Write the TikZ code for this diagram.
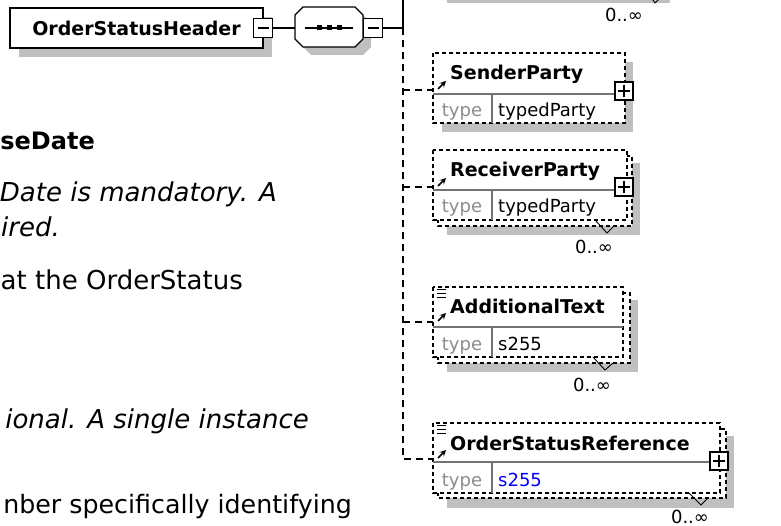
\documentclass[tikz,border=0pt]{standalone}
\usepackage{fontspec}
\setmainfont{DejaVu Sans}
\usetikzlibrary{arrows}

\tikzset{
  shadow/.style={fill=black!25},
  heavy/.style={line width=1.2pt},
  elbox/.style={heavy, dash pattern=on 4pt off 3pt, fill=white},
  conn/.style={heavy, dash pattern=on 7pt off 5pt},
  divider/.style={draw=black!55, heavy},
  notch/.style={line width=0.9pt},
  refarrow/.style={line width=1.7pt, -stealth},
  elname/.style={font=\fontsize{19}{22}\selectfont\bfseries, anchor=base west, inner sep=0pt},
  typelbl/.style={font=\fontsize{18}{21}\selectfont, text=black!45, anchor=base, inner sep=0pt},
  typeval/.style={font=\fontsize{18}{21}\selectfont, anchor=base west, inner sep=0pt},
  occurs/.style={font=\fontsize{18}{21}\selectfont, anchor=base, inner sep=0pt},
  doctext/.style={font=\fontsize{26}{30}\selectfont, anchor=base east, inner sep=0pt},
  expander/.style={draw, heavy, fill=white, minimum size=19, inner sep=0pt},
  minusbox/.style={expander, path picture={\draw[heavy]
      ([xshift=4pt]path picture bounding box.west) -- ([xshift=-4pt]path picture bounding box.east);}},
  plusbox/.style={expander, minimum size=18, path picture={\draw[heavy]
      ([xshift=3pt]path picture bounding box.west) -- ([xshift=-3pt]path picture bounding box.east)
      ([yshift=-3pt]path picture bounding box.north) -- ([yshift=3pt]path picture bounding box.south);}}
}

\begin{document}
\begin{tikzpicture}[x=1pt,y=-1pt,join=miter] % OrderStatusHeader content model
  \useasboundingbox (0,0) rectangle (781,526);
  \clip (0,0) rectangle (781,526);
  % documentation text, cut at the left edge
  \node[doctext, font=\fontsize{24}{30}\selectfont\bfseries] (t1) at (95,150) {seDate};
  \node[doctext, font=\fontsize{26}{30}\selectfont\itshape] (t2) at (277,202) {Date is mandatory. A};
  \node[doctext, font=\fontsize{26}{30}\selectfont\itshape] (t3) at (60,237) {ired.};
  \node[doctext] (t4) at (243,290) {at the OrderStatus};
  \node[doctext, font=\fontsize{26}{30}\selectfont\itshape] (t5) at (309,428) {ional. A single instance};
  \node[doctext, font=\fontsize{25.3}{30}\selectfont] (t6) at (352,513) {nber specifically identifying};
  % root element and sequence
  \fill[shadow] (19,17) rectangle (272,57);
  \node[draw, heavy, fill=white, minimum width=253, minimum height=40, inner sep=0pt,
        font=\fontsize{19}{22}\selectfont\bfseries] (header) at (136.5,28) {OrderStatusHeader\hspace{8pt}};
  \node[minusbox] (hdrminus) at (263,28) {};
  \fill[shadow] (303,23)--(311,15)--(363,15)--(371,23)--(371,47)--(363,55)--(311,55)--(303,47)--cycle;
  \filldraw[heavy, fill=white] (295,15)--(303,7)--(355,7)--(363,15)--(363,39)--(355,47)--(303,47)--(295,39)--cycle;
  \coordinate (seqin) at (295,28);
  \draw[heavy] (305,28) -- (353,28);
  \foreach \x in {319,329,339} \fill (\x-2.5,25.5) rectangle (\x+2.5,30.5);
  \node[minusbox] (seqminus) at (373,28) {};
  \coordinate (spine) at (403,28);
  \coordinate (spinetop) at (403,-2);
  \draw[heavy] (hdrminus.east) -- (seqin);
  \draw[heavy] (seqminus.east) -- (spine) -- (spinetop);
  % element above, cut at the top edge
  \fill[shadow] (447,-5) rectangle (670,3);
  \draw[notch] (651,-3) -- (655,3) -- (659,-1);
  \node[occurs] (occ0) at (624,22) {0..∞};
  % SenderParty
  \fill[shadow] (442,62) rectangle (633,132);
  \draw[elbox] (433,53) rectangle (625,123);
  \draw[divider] (433,94) -- (615,94) (492,94) -- (492,123);
  \node[elname] (sender) at (450,80) {SenderParty};
  \node[typelbl] (sendertype) at (462,117) {type};
  \node[typeval] (senderval) at (498,117) {typedParty};
  \node[plusbox] (senderplus) at (624,91) {};
  \draw[refarrow] (438,89) -- (446,81);
  \coordinate (senderin) at (433,90);
  % ReceiverParty
  \fill[shadow] (447,163) rectangle (640,235);
  \draw[elbox] (438,156) rectangle (632,226);
  \draw[elbox] (433,150) rectangle (627,220);
  \draw[divider] (433,190) -- (615,190) (492,190) -- (492,220);
  \node[elname] (receiver) at (450,177) {ReceiverParty};
  \node[typelbl] (receivertype) at (462,213) {type};
  \node[typeval] (receiverval) at (498,213) {typedParty};
  \node[plusbox] (receiverplus) at (624,187) {};
  \draw[refarrow] (438,186) -- (446,178);
  \draw[notch] (595,220) -- (607,233) -- (614,226);
  \node[occurs] (occ1) at (594,254) {0..∞};
  \coordinate (receiverin) at (433,187);
  % AdditionalText
  \fill[shadow] (447,300) rectangle (638,372);
  \draw[elbox] (438,293) rectangle (630,363);
  \draw[elbox] (433,287) rectangle (623,357);
  \draw[divider] (433,327) -- (623,327) (492,327) -- (492,357);
  \node[elname] (addtext) at (450,314) {AdditionalText};
  \node[typelbl] (addtype) at (462,350) {type};
  \node[typeval] (addval) at (498,350) {s255};
  \foreach \y in {289,293,297} \draw[line width=0.9pt] (437,\y) -- (446,\y);
  \draw[refarrow] (438,321) -- (446,313);
  \draw[notch] (593,357) -- (605,370) -- (613,363);
  \node[occurs] (occ2) at (592,391) {0..∞};
  \coordinate (addin) at (433,322);
  % OrderStatusReference
  \fill[shadow] (447,436) rectangle (734,508);
  \draw[elbox] (438,429) rectangle (726,498);
  \draw[elbox] (433,423) rectangle (720,493);
  \draw[divider] (433,462) -- (710,462) (492,462) -- (492,493);
  \node[elname] (ref) at (450,450) {OrderStatusReference};
  \node[typelbl] (reftype) at (462,486) {type};
  \node[typeval, text=blue] (refval) at (498,486) {s255};
  \node[plusbox] (refplus) at (719,461) {};
  \foreach \y in {425,429,433} \draw[line width=0.9pt] (437,\y) -- (446,\y);
  \draw[refarrow] (438,458) -- (446,450);
  \draw[notch] (689,493) -- (701,505) -- (708,498);
  \node[occurs] (occ3) at (690,523) {0..∞};
  \coordinate (refin) at (433,459);
  % connectors
  \draw[conn] (spine) |- (refin);
  \draw[conn] (spine |- senderin) -- (senderin);
  \draw[conn] (spine |- receiverin) -- (receiverin);
  \draw[conn] (spine |- addin) -- (addin);
\end{tikzpicture}
\end{document}
